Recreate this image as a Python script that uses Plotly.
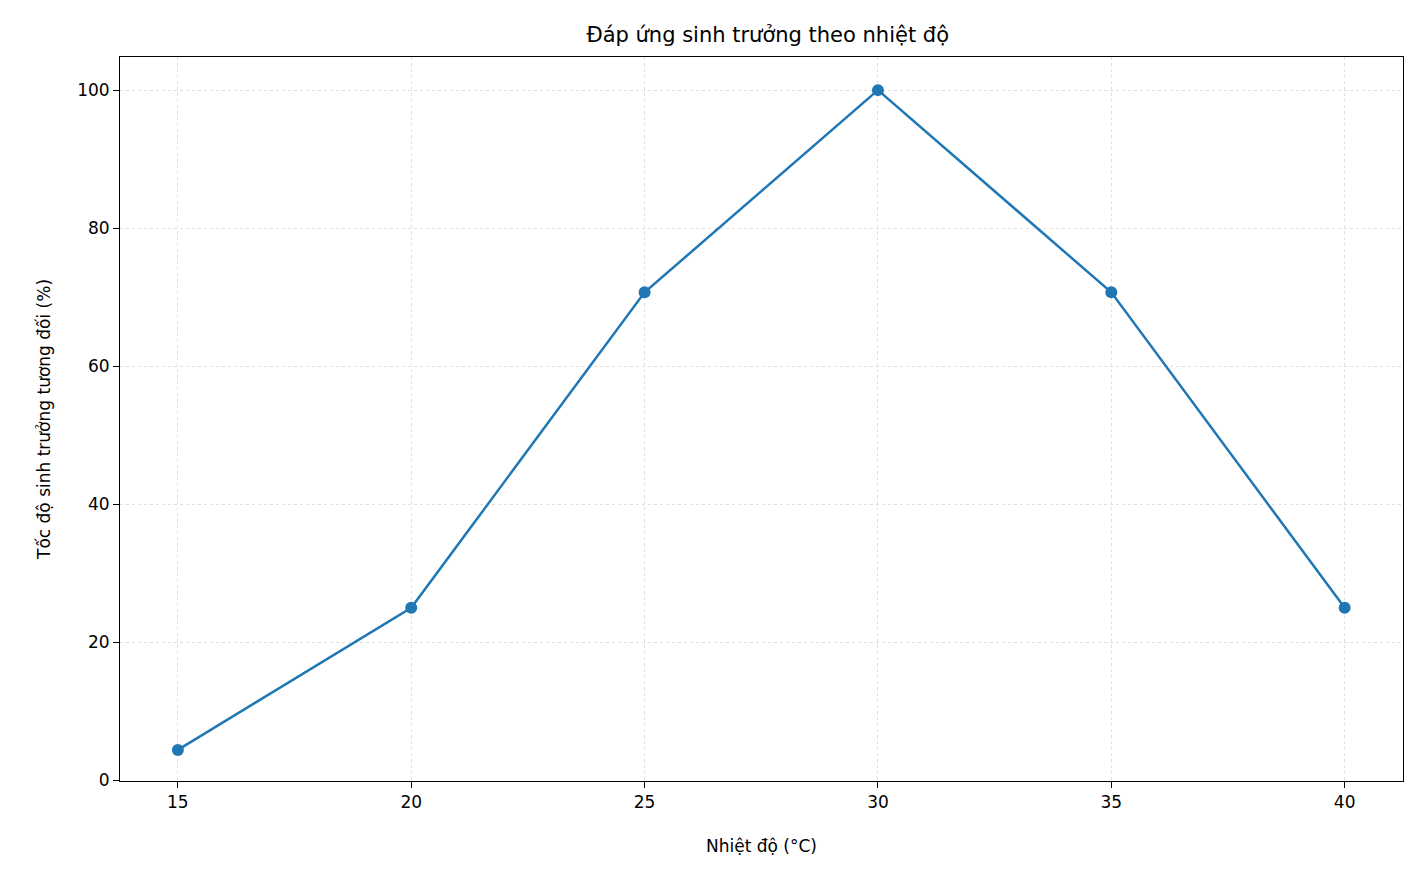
import plotly.graph_objects as go

temperature = [15, 20, 25, 30, 35, 40]
growth_rate = [4.4, 25.0, 70.7, 100.0, 70.7, 25.0]
x_ticks = [15, 20, 25, 30, 35, 40]
y_ticks = [0, 20, 40, 60, 80, 100]

fig = go.Figure()
fig.add_trace(go.Scatter(x=temperature, y=growth_rate, mode="lines+markers",
                         line=dict(color="#1f77b4", width=2.5),
                         marker=dict(color="#1f77b4", size=12)))

axis_style = dict(showline=True, linecolor="black", linewidth=1, mirror=True,
                  ticks="outside", ticklen=6, tickcolor="black",
                  showgrid=True, gridcolor="rgba(0,0,0,0.12)", griddash="dot",
                  zeroline=False, tickfont=dict(size=17, color="black"))

fig.update_layout(
    width=1420, height=877,
    paper_bgcolor="white", plot_bgcolor="white",
    font=dict(family="DejaVu Sans", color="black"),
    title=dict(text="Đáp ứng sinh trưởng theo nhiệt độ", x=0.535, xanchor="center",
               y=0.978, font=dict(size=21)),
    margin=dict(l=112, r=25, t=49, b=104),
    showlegend=False,
)
fig.update_xaxes(axis_style, range=[13.76, 41.25], tickvals=x_ticks,
                 title=dict(text="Nhiệt độ (°C)", font=dict(size=17), standoff=28))
fig.update_yaxes(axis_style, range=[-0.1, 104.8], tickvals=y_ticks,
                 title=dict(text="Tốc độ sinh trưởng tương đối (%)", font=dict(size=17), standoff=22))

fig.write_html("out.html")
